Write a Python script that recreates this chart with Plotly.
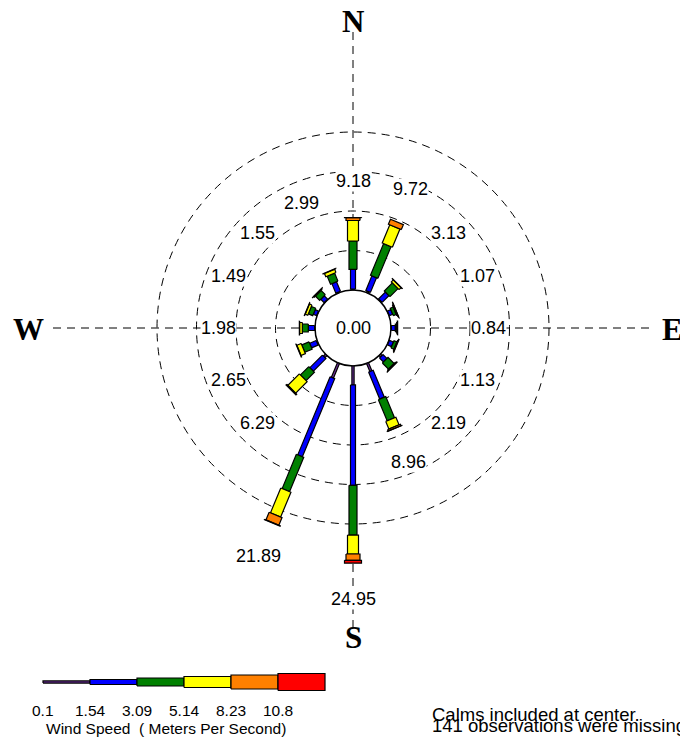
import math
import plotly.graph_objects as go

# ---------------- data ----------------
directions = ["N", "NNE", "NE", "ENE", "E", "ESE", "SE", "SSE",
              "S", "SSW", "SW", "WSW", "W", "WNW", "NW", "NNW"]
dir_angles = [0, 22.5, 45, 67.5, 90, 112.5, 135, 157.5,
              180, 202.5, 225, 247.5, 270, 292.5, 315, 337.5]
totals = [9.18, 9.72, 3.13, 1.07, 0.84, 1.13, 2.19, 8.96,
          24.95, 21.89, 6.29, 2.65, 1.98, 1.49, 1.55, 2.99]

# frequency (%) per wind-speed class, per direction
cls_01_154 = [0.10, 0.20, 0.10, 0.05, 0.05, 0.05, 0.25, 1.10,
              2.40, 2.00, 0.35, 0.10, 0.05, 0.05, 0.05, 0.10]
cls_154_309 = [2.50, 2.00, 1.20, 0.45, 0.50, 0.55, 0.70, 3.70,
               12.70, 10.70, 2.25, 0.90, 0.80, 0.45, 0.60, 1.30]
cls_309_514 = [3.60, 4.34, 1.45, 0.40, 0.17, 0.40, 1.10, 2.90,
               6.30, 4.70, 1.50, 1.00, 0.75, 0.60, 0.75, 1.10]
cls_514_823 = [2.60, 2.50, 0.35, 0.10, 0.08, 0.08, 0.10, 1.05,
               2.40, 3.40, 2.05, 0.60, 0.35, 0.35, 0.12, 0.45]
cls_823_108 = [0.36, 0.68, 0.03, 0.05, 0.04, 0.05, 0.04, 0.20,
               0.80, 1.05, 0.14, 0.05, 0.03, 0.04, 0.03, 0.04]
cls_108_up = [0.02, 0.00, 0.00, 0.02, 0.00, 0.00, 0.00, 0.01,
              0.35, 0.04, 0.00, 0.00, 0.00, 0.00, 0.00, 0.00]

speed_ticks = ["0.1", "1.54", "3.09", "5.14", "8.23", "10.8"]
calms_pct = 0.00
ring_pcts = [5, 10, 15, 20]
missing_obs = 141

# ---------------- styling ----------------
class_values = [cls_01_154, cls_154_309, cls_309_514, cls_514_823, cls_823_108, cls_108_up]
class_colors = ["#7030A0", "#0000FF", "#008000", "#FFFF00", "#FF8000", "#FF0000"]
class_widths_px = [2.2, 5.0, 8.0, 11.0, 14.0, 17.0]

PAGE_OFF = 8               # default page margin of the html body
W, H = 688 - PAGE_OFF, 742 - PAGE_OFF
CX, CY = 353, 328          # centre in page pixels
PX = 7.9                   # pixels per percent
HOLE = 38 / PX             # calm circle radius in data units
FONT = "Liberation Sans"


def px_x(px):
    return (px - CX) / PX


def px_y(py):
    return (CY - py) / PX


def seg_poly(theta, r0, r1, w_units):
    t = math.radians(theta)
    ux, uy = math.sin(t), math.cos(t)
    pxv, pyv = math.cos(t), -math.sin(t)
    h = w_units / 2
    pts = [(ux * r0 + pxv * h, uy * r0 + pyv * h),
           (ux * r1 + pxv * h, uy * r1 + pyv * h),
           (ux * r1 - pxv * h, uy * r1 - pyv * h),
           (ux * r0 - pxv * h, uy * r0 - pyv * h)]
    pts.append(pts[0])
    return [p[0] for p in pts], [p[1] for p in pts]


fig = go.Figure()

# wind rose bars
for i, ang in enumerate(dir_angles):
    r = HOLE
    for k in range(6):
        v = class_values[k][i]
        if v <= 0:
            continue
        xs, ys = seg_poly(ang, r, r + v, class_widths_px[k] / PX)
        r += v
        fig.add_trace(go.Scatter(x=xs, y=ys, mode="lines", fill="toself",
                                 fillcolor=class_colors[k],
                                 line=dict(color="black", width=1.2),
                                 hoverinfo="skip", showlegend=False))

# legend key
seg_len = 47
lx0, ly = 43, 682
for k in range(6):
    x0 = px_x(lx0 + k * seg_len)
    x1 = px_x(lx0 + (k + 1) * seg_len)
    h = class_widths_px[k] / PX / 2
    y0 = px_y(ly)
    fig.add_trace(go.Scatter(x=[x0, x1, x1, x0, x0], y=[y0 - h, y0 - h, y0 + h, y0 + h, y0 - h],
                             mode="lines", fill="toself", fillcolor=class_colors[k],
                             line=dict(color="black", width=1.2),
                             hoverinfo="skip", showlegend=False))

shapes = []
# rings
for rp in ring_pcts:
    R = HOLE + rp
    shapes.append(dict(type="circle", xref="x", yref="y", x0=-R, x1=R, y0=-R, y1=R,
                       line=dict(color="black", width=1, dash="8px,6px"), layer="below"))
# axes
AX = 300 / PX
shapes.append(dict(type="line", xref="x", yref="y", x0=-AX, x1=AX, y0=0, y1=0,
                   line=dict(color="black", width=1, dash="8px,6px"), layer="below"))
shapes.append(dict(type="line", xref="x", yref="y", x0=0, x1=0, y0=-AX, y1=AX,
                   line=dict(color="black", width=1, dash="8px,6px"), layer="below"))
# calm circle
shapes.append(dict(type="circle", xref="x", yref="y", x0=-HOLE, x1=HOLE, y0=-HOLE, y1=HOLE,
                   fillcolor="white", line=dict(color="black", width=1.5), layer="below"))

annotations = []
# percentage labels
for i, ang in enumerate(dir_angles):
    tip_px = 38 + totals[i] * PX
    rl = max(tip_px + 36, 135) / PX
    t = math.radians(ang)
    annotations.append(dict(x=rl * math.sin(t), y=rl * math.cos(t), xref="x", yref="y",
                            text=f"{totals[i]:.2f}", showarrow=False,
                            font=dict(family=FONT, size=18, color="black"),
                            bgcolor="white", borderpad=0))
# calms
annotations.append(dict(x=0, y=0, xref="x", yref="y", text=f"{calms_pct:.2f}", showarrow=False,
                        font=dict(family=FONT, size=18, color="black")))
# compass letters
for txt, (lx, lyy) in zip(["N", "S", "E", "W"], [(353, 21), (353, 637), (672, 329), (28, 329)]):
    annotations.append(dict(x=px_x(lx), y=px_y(lyy), xref="x", yref="y", text=f"<b>{txt}</b>",
                            showarrow=False, font=dict(family="Liberation Serif", size=31, color="black")))
# legend tick labels
for k, t in enumerate(speed_ticks):
    annotations.append(dict(x=px_x(lx0 + k * seg_len), y=px_y(710), xref="x", yref="y", text=t,
                            showarrow=False, font=dict(family=FONT, size=15.5, color="black")))
annotations.append(dict(x=px_x(166), y=px_y(728), xref="x", yref="y",
                        text="Wind Speed  ( Meters Per Second)", showarrow=False,
                        font=dict(family=FONT, size=15.5, color="black")))
annotations.append(dict(x=px_x(430), y=px_y(714), xref="x", yref="y", xanchor="left",
                        text="Calms included at center.", showarrow=False,
                        font=dict(family=FONT, size=18.5, color="black")))
annotations.append(dict(x=px_x(430), y=px_y(725), xref="x", yref="y", xanchor="left",
                        text=f"{missing_obs} observations were missing", showarrow=False,
                        font=dict(family=FONT, size=18.5, color="black")))

fig.update_layout(
    width=W, height=H, margin=dict(l=0, r=0, t=0, b=0),
    paper_bgcolor="white", plot_bgcolor="white",
    xaxis=dict(range=[px_x(PAGE_OFF), px_x(PAGE_OFF + W)], visible=False, fixedrange=True),
    yaxis=dict(range=[px_y(PAGE_OFF + H), px_y(PAGE_OFF)], visible=False, fixedrange=True),
    shapes=shapes, annotations=annotations, showlegend=False,
)

fig.write_html("out.html", config={"displayModeBar": False})
